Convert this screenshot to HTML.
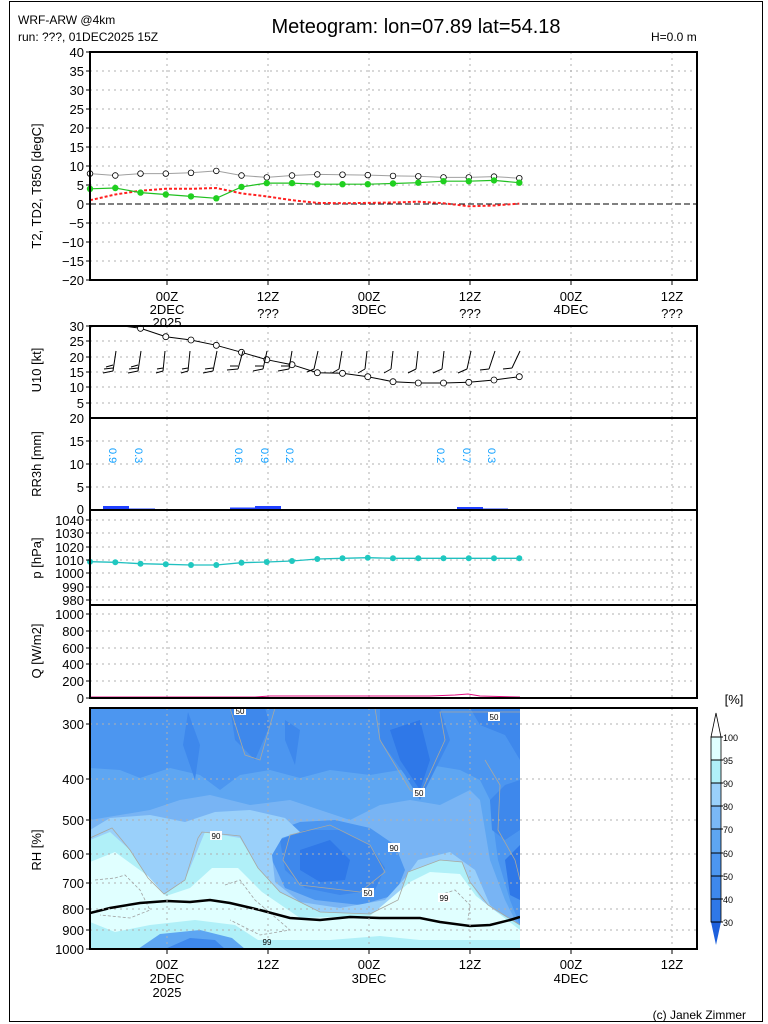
<!DOCTYPE html>
<html><head><meta charset="utf-8"><style>
html,body{margin:0;padding:0;background:#fff;}
svg{display:block;font-family:"Liberation Sans",sans-serif;}
</style></head><body>
<svg width="768" height="1024" viewBox="0 0 768 1024" xmlns="http://www.w3.org/2000/svg">
<rect x="0" y="0" width="768" height="1024" fill="#fff"/>
<rect x="9.5" y="1.5" width="753" height="1020" fill="none" stroke="#000" stroke-width="1"/>
<text x="18" y="24" font-size="12">WRF-ARW @4km</text>
<text x="18" y="41" font-size="12">run: ???, 01DEC2025 15Z</text>
<text x="416" y="33" font-size="20" text-anchor="middle">Meteogram: lon=07.89  lat=54.18</text>
<text x="651" y="41" font-size="12">H=0.0   m</text>

<defs><clipPath id="rhc"><rect x="90" y="708" width="430" height="241"/></clipPath>
<clipPath id="wc"><rect x="90" y="326" width="607" height="92"/></clipPath></defs>
<g clip-path="url(#rhc)">
<rect x="90" y="708" width="430" height="241" fill="#78b4f4"/>
<path d="M90,708 H520 V930 L505,900 L490,860 L480,800 L470,790 L440,805 L410,800 L380,805 L350,820 L320,810 L290,800 L250,805 L210,795 L180,800 L150,810 L120,815 L90,820Z" fill="#5ea6f2"/>
<path d="M90,708 H520 V925 L510,900 L498,860 L490,800 L480,780 L460,770 L430,765 L400,770 L370,775 L330,770 L300,778 L270,770 L240,775 L220,790 L200,775 L170,768 L140,778 L120,770 L90,768Z" fill="#4c96f0"/>
<path d="M270,833 L300,822 L335,820 L370,828 L395,845 L405,870 L395,895 L360,905 L315,900 L285,888 L272,860Z" fill="#4c96f0"/>
<path d="M280,840 L305,830 L340,830 L370,845 L385,868 L375,890 L340,895 L305,888 L285,870Z" fill="#3e88ec"/>
<path d="M300,850 L330,840 L350,860 L345,880 L320,882 L300,870Z" fill="#2f78e8"/>
<path d="M188,712 L200,745 L195,780 L183,745Z" fill="#3e88ec"/>
<path d="M230,708 L265,708 L270,725 L255,760 L235,740Z" fill="#3e88ec"/>
<path d="M285,720 L300,730 L295,765 L285,740Z" fill="#3e88ec"/>
<path d="M380,708 L440,708 L450,740 L430,780 L420,800 L405,775 L380,740Z" fill="#3e88ec"/>
<path d="M390,730 L420,720 L430,760 L420,790 L400,760Z" fill="#2f78e8"/>
<path d="M470,708 L520,708 L520,760 L505,735 L480,725Z" fill="#3e88ec"/>
<path d="M490,800 L505,785 L520,780 L520,830 L505,840 L492,830Z" fill="#3e88ec"/>
<path d="M505,860 L520,845 L520,900 L510,895Z" fill="#2f78e8"/>
<path d="M90,830 L110,818 L150,815 L185,822 L215,812 L250,810 L285,818 L300,832 L282,838 L272,855 L275,882 L300,902 L340,908 L385,900 L405,878 L418,860 L450,852 L475,870 L490,905 L520,928 L520,949 L90,949Z" fill="#9ad0fa"/>
<path d="M90,840 L110,832 L130,850 L148,878 L164,895 L185,880 L205,832 L240,838 L258,868 L280,892 L320,912 L370,914 L398,900 L408,872 L440,860 L462,862 L470,882 L485,905 L520,925 L520,949 L90,949Z" fill="#b0f0f8"/>
<path d="M90,862 L115,852 L148,876 L166,896 L190,888 L212,868 L238,868 L262,892 L300,918 L370,916 L410,882 L430,872 L460,874 L476,896 L520,930 L520,940 L90,940Z" fill="#e0ffff"/>
<path d="M90,922 L115,932 L150,925 L195,920 L235,925 L258,940 L270,949 L90,949Z" fill="#b0f0f8"/>
<path d="M300,949 L330,940 L380,936 L420,940 L430,949Z" fill="#b0f0f8"/>
<path d="M138,949 L160,934 L200,930 L232,938 L245,949Z" fill="#5ea6f2"/>
<path d="M165,949 L190,938 L215,940 L225,949Z" fill="#3e88ec"/>
<g fill="none" stroke="#a8a8a0" stroke-width="0.8">
<path d="M90,838 L112,828 L130,850 L148,878 L164,894 L185,880 L198,838 L202,832 L240,836 L258,868 L280,892 L320,912 L370,914 L398,900 L408,872 L440,860 L462,862 L470,882 L488,905 L520,925"/>
<path d="M230,708 L245,755 L260,760 L275,708"/>
<path d="M375,708 L380,740 L410,790 L420,795 L445,740 L440,712 L520,712"/>
<path d="M290,835 L330,825 L370,845 L385,872 L360,892 L300,885 L283,860Z"/>
<path d="M485,760 L500,785 L498,830 L515,860 L520,880"/>
</g>
<g fill="none" stroke="#a0a0a0" stroke-width="0.8" stroke-dasharray="3,2">
<path d="M95,880 L115,878 L125,875 L140,890 L150,910 L130,918 L100,915"/>
<path d="M225,885 L240,880 L255,900 L290,930 L260,935 L230,920"/>
<path d="M440,895 L455,890 L470,905 L468,920"/>
</g>
<path d="M90,913 L110,908 L140,903 L167,901 L190,902 L210,900 L230,903 L260,910 L290,918 L320,920 L350,917 L380,918 L420,918 L440,922 L470,926 L490,925 L510,920 L520,917" fill="none" stroke="#000" stroke-width="2.5"/>
</g>
<g font-size="8" text-anchor="middle">
<rect x="234" y="706" width="12" height="9" fill="#fff"/><text x="240" y="714">50</text>
<rect x="488" y="712" width="12" height="9" fill="#fff"/><text x="494" y="720">50</text>
<rect x="413" y="788" width="12" height="9" fill="#fff"/><text x="419" y="796">50</text>
<rect x="210" y="831" width="12" height="9" fill="#fff"/><text x="216" y="839">90</text>
<rect x="388" y="843" width="12" height="9" fill="#fff"/><text x="394" y="851">90</text>
<rect x="362" y="888" width="12" height="9" fill="#fff"/><text x="368" y="896">50</text>
<rect x="438" y="893" width="12" height="9" fill="#fff"/><text x="444" y="901">99</text>
<text x="267" y="945">99</text>
</g>

<g stroke="#b0b0b0" stroke-width="1" stroke-dasharray="2,4" fill="none">
<path d="M90,71H697M90,90H697M90,109H697M90,128H697M90,147H697M90,166H697M90,185H697M90,223H697M90,242H697M90,261H697"/>
<path d="M167,52V280M268,52V280M369,52V280M470,52V280M571,52V280M672,52V280"/>
<path d="M90,341H697M90,357H697M90,372H697M90,387H697M90,403H697M167,326V418M268,326V418M369,326V418M470,326V418M571,326V418M672,326V418"/>
<path d="M90,441H697M90,464H697M90,487H697M167,418V510M268,418V510M369,418V510M470,418V510M571,418V510M672,418V510"/>
<path d="M90,520H697M90,533H697M90,547H697M90,560H697M90,573H697M90,587H697M90,600H697M167,510V605M268,510V605M369,510V605M470,510V605M571,510V605M672,510V605"/>
<path d="M90,614H697M90,631H697M90,648H697M90,664H697M90,681H697M167,605V698M268,605V698M369,605V698M470,605V698M571,605V698M672,605V698"/>
<path d="M520,724H697M520,779H697M520,820H697M520,854H697M520,883H697M520,909H697M520,930H697M90,724H520M90,779H520M90,820H520M90,854H520M90,883H520M90,909H520M90,930H520M167,708V949M268,708V949M369,708V949M470,708V949M571,708V949M672,708V949"/>
</g>

<line x1="90" y1="204" x2="697" y2="204" stroke="#000" stroke-width="1" stroke-dasharray="6,3"/>
<polyline fill="none" stroke="#ff2020" stroke-width="2" stroke-dasharray="3,2" points="90,200.2 115.3,194.5 140.5,190.7 165.8,188.8 191,188.8 216.3,188 241.5,193.4 266.8,196.4 292,200.2 317.3,202.9 342.5,203.2 367.8,202.9 393,202.5 418.3,201.7 443.5,203.2 468.8,206.3 494,205.5 519.3,203.6"/>
<polyline fill="none" stroke="#a0a0a0" stroke-width="1" points="90,173.6 115.3,175.5 140.5,173.6 165.8,173.6 191,172.8 216.3,170.9 241.5,175.5 266.8,177.4 292,175.5 317.3,174.4 342.5,174.7 367.8,175.1 393,175.9 418.3,176.3 443.5,177.4 468.8,177.4 494,176.6 519.3,178.2"/>
<g fill="#fff" stroke="#000" stroke-width="0.8">
<circle cx="90" cy="173.6" r="2.8"/><circle cx="115.3" cy="175.5" r="2.8"/><circle cx="140.5" cy="173.6" r="2.8"/><circle cx="165.8" cy="173.6" r="2.8"/><circle cx="191" cy="172.8" r="2.8"/><circle cx="216.3" cy="170.9" r="2.8"/><circle cx="241.5" cy="175.5" r="2.8"/><circle cx="266.8" cy="177.4" r="2.8"/><circle cx="292" cy="175.5" r="2.8"/><circle cx="317.3" cy="174.4" r="2.8"/><circle cx="342.5" cy="174.7" r="2.8"/><circle cx="367.8" cy="175.1" r="2.8"/><circle cx="393" cy="175.9" r="2.8"/><circle cx="418.3" cy="176.3" r="2.8"/><circle cx="443.5" cy="177.4" r="2.8"/><circle cx="468.8" cy="177.4" r="2.8"/><circle cx="494" cy="176.6" r="2.8"/><circle cx="519.3" cy="178.2" r="2.8"/>
</g>
<polyline fill="none" stroke="#20c020" stroke-width="1.2" points="90,188.8 115.3,188 140.5,192.6 165.8,194.5 191,196.4 216.3,198.3 241.5,186.9 266.8,183.1 292,183.1 317.3,184.2 342.5,184.2 367.8,184.2 393,183.5 418.3,182.7 443.5,181.2 468.8,181.2 494,180.4 519.3,182.7"/>
<g fill="#20d020">
<circle cx="90" cy="188.8" r="3.2"/><circle cx="115.3" cy="188" r="3.2"/><circle cx="140.5" cy="192.6" r="3.2"/><circle cx="165.8" cy="194.5" r="3.2"/><circle cx="191" cy="196.4" r="3.2"/><circle cx="216.3" cy="198.3" r="3.2"/><circle cx="241.5" cy="186.9" r="3.2"/><circle cx="266.8" cy="183.1" r="3.2"/><circle cx="292" cy="183.1" r="3.2"/><circle cx="317.3" cy="184.2" r="3.2"/><circle cx="342.5" cy="184.2" r="3.2"/><circle cx="367.8" cy="184.2" r="3.2"/><circle cx="393" cy="183.5" r="3.2"/><circle cx="418.3" cy="182.7" r="3.2"/><circle cx="443.5" cy="181.2" r="3.2"/><circle cx="468.8" cy="181.2" r="3.2"/><circle cx="494" cy="180.4" r="3.2"/><circle cx="519.3" cy="182.7" r="3.2"/>
</g>

<g clip-path="url(#wc)">
<polyline fill="none" stroke="#000" stroke-width="1" points="90,327 100,325 115.3,325 140.5,328.3 165.8,336.7 191,340 216.3,345.3 241.5,352.3 266.8,359.7 292,364.7 317.3,372.7 342.5,373.3 367.8,376.7 393,381.7 418.3,383 443.5,383 468.8,382.3 494,380 519.3,376.7"/>
</g>
<g fill="#fff" stroke="#000" stroke-width="0.8">
<circle cx="140.5" cy="328.3" r="3"/><circle cx="165.8" cy="336.7" r="3"/><circle cx="191" cy="340" r="3"/><circle cx="216.3" cy="345.3" r="3"/><circle cx="241.5" cy="352.3" r="3"/><circle cx="266.8" cy="359.7" r="3"/><circle cx="292" cy="364.7" r="3"/><circle cx="317.3" cy="372.7" r="3"/><circle cx="342.5" cy="373.3" r="3"/><circle cx="367.8" cy="376.7" r="3"/><circle cx="393" cy="381.7" r="3"/><circle cx="418.3" cy="383" r="3"/><circle cx="443.5" cy="383" r="3"/><circle cx="468.8" cy="382.3" r="3"/><circle cx="494" cy="380" r="3"/><circle cx="519.3" cy="376.7" r="3"/>
</g>
<g fill="none" stroke="#000" stroke-width="1">
<path d="M113,371 L116,351 M113,371 L103,373 M113,368 L104,369 M113,365 L106,367"/>
<path d="M138,371 L141,351 M138,371 L128,373 M138,368 L129,369 M138,365 L131,367"/>
<path d="M163,371 L165,351 M163,371 L156,373 M163,368 L157,369"/>
<path d="M188,371 L190,351 M188,371 L181,373 M188,368 L182,369"/>
<path d="M213,371 L217,351 M213,371 L203,373 M213,368 L205,369"/>
<path d="M238,369 L243,351 M238,369 L227,370 M238,366 L230,366"/>
<path d="M263,369 L267,351 M263,369 L253,371 M263,366 L255,366"/>
<path d="M289,369 L292,351 M289,369 L278,371 M289,366 L281,366"/>
<path d="M314,369 L318,351 M314,369 L307,372"/>
<path d="M339,369 L342,351 M339,369 L332,373"/>
<path d="M365,369 L367,351 M365,369 L358,373"/>
<path d="M391,369 L393,351 M391,369 L384,373"/>
<path d="M416,369 L418,351 M416,369 L408,373"/>
<path d="M442,369 L444,351 M442,369 L433,373"/>
<path d="M467,369 L471,351 M467,369 L458,373"/>
<path d="M489,369 L495,351 M489,369 L480,370"/>
<path d="M512,368 L520,351 M512,368 L503,369"/>
</g>

<g fill="#2040ff">
<rect x="103" y="506" width="26" height="4"/><rect x="129" y="508.5" width="26" height="1.5"/>
<rect x="230" y="507.5" width="25" height="2.5"/><rect x="255" y="506" width="26" height="4"/>
<rect x="432" y="509" width="25" height="1"/><rect x="457" y="507" width="26" height="3"/><rect x="483" y="508.5" width="25" height="1.5"/>
</g>
<g fill="#10a0ff" font-size="11">
<text transform="translate(109,448) rotate(90)">0.9</text>
<text transform="translate(135,448) rotate(90)">0.3</text>
<text transform="translate(235,448) rotate(90)">0.6</text>
<text transform="translate(261,448) rotate(90)">0.9</text>
<text transform="translate(286,448) rotate(90)">0.2</text>
<text transform="translate(437,448) rotate(90)">0.2</text>
<text transform="translate(463,448) rotate(90)">0.7</text>
<text transform="translate(488,448) rotate(90)">0.3</text>
</g>

<polyline fill="none" stroke="#20c0c0" stroke-width="1.3" points="90,561.7 115.3,562.3 140.5,563.7 165.8,564.3 191,565 216.3,565 241.5,562.7 266.8,562 292,561 317.3,559 342.5,558.3 367.8,557.7 393,558.3 418.3,558.3 443.5,558.3 468.8,558.3 494,558.3 519.3,558.3"/>
<g fill="#20c8c0">
<circle cx="90" cy="561.7" r="3"/><circle cx="115.3" cy="562.3" r="3"/><circle cx="140.5" cy="563.7" r="3"/><circle cx="165.8" cy="564.3" r="3"/><circle cx="191" cy="565" r="3"/><circle cx="216.3" cy="565" r="3"/><circle cx="241.5" cy="562.7" r="3"/><circle cx="266.8" cy="562" r="3"/><circle cx="292" cy="561" r="3"/><circle cx="317.3" cy="559" r="3"/><circle cx="342.5" cy="558.3" r="3"/><circle cx="367.8" cy="557.7" r="3"/><circle cx="393" cy="558.3" r="3"/><circle cx="418.3" cy="558.3" r="3"/><circle cx="443.5" cy="558.3" r="3"/><circle cx="468.8" cy="558.3" r="3"/><circle cx="494" cy="558.3" r="3"/><circle cx="519.3" cy="558.3" r="3"/>
</g>

<polyline fill="none" stroke="#e01080" stroke-width="1" points="90,697 255,697 270,696 430,696 455,695 468,694 480,696 520,697"/>

<g fill="none" stroke="#000" stroke-width="2">
<rect x="90" y="52" width="607" height="228"/>
<rect x="90" y="326" width="607" height="372"/>
<line x1="90" y1="418" x2="697" y2="418"/>
<line x1="90" y1="510" x2="697" y2="510"/>
<line x1="90" y1="605" x2="697" y2="605"/>
<rect x="90" y="708" width="607" height="241"/>
</g>
<g stroke="#000" stroke-width="1">
<path d="M86,52H90M86,71H90M86,90H90M86,109H90M86,128H90M86,147H90M86,166H90M86,185H90M86,204H90M86,223H90M86,242H90M86,261H90M86,280H90"/>
<path d="M167,280V285M268,280V285M369,280V285M470,280V285M571,280V285M672,280V285"/>
<path d="M86,326H90M86,341H90M86,357H90M86,372H90M86,387H90M86,403H90M86,441H90M86,464H90M86,487H90M86,520H90M86,533H90M86,547H90M86,560H90M86,573H90M86,587H90M86,600H90M86,614H90M86,631H90M86,648H90M86,664H90M86,681H90M86,698H90"/>
<path d="M86,724H90M86,779H90M86,820H90M86,854H90M86,883H90M86,909H90M86,930H90M86,949H90M167,949V954M268,949V954M369,949V954M470,949V954M571,949V954M672,949V954"/>
</g>

<g font-size="13" text-anchor="end">
<text x="84" y="57">40</text><text x="84" y="76">35</text><text x="84" y="95">30</text><text x="84" y="114">25</text><text x="84" y="133">20</text><text x="84" y="152">15</text><text x="84" y="171">10</text><text x="84" y="190">5</text><text x="84" y="209">0</text><text x="84" y="228">−5</text><text x="84" y="247">−10</text><text x="84" y="266">−15</text><text x="84" y="285">−20</text>
<text x="84" y="331">30</text><text x="84" y="346">25</text><text x="84" y="362">20</text><text x="84" y="377">15</text><text x="84" y="392">10</text><text x="84" y="408">5</text>
<text x="84" y="423">20</text><text x="84" y="446">15</text><text x="84" y="469">10</text><text x="84" y="492">5</text><text x="84" y="514">0</text>
<text x="84" y="525">1040</text><text x="84" y="538">1030</text><text x="84" y="552">1020</text><text x="84" y="565">1010</text><text x="84" y="578">1000</text><text x="84" y="592">990</text><text x="84" y="605">980</text>
<text x="84" y="619">1000</text><text x="84" y="636">800</text><text x="84" y="653">600</text><text x="84" y="669">400</text><text x="84" y="686">200</text><text x="84" y="703">0</text>
<text x="84" y="729">300</text><text x="84" y="784">400</text><text x="84" y="825">500</text><text x="84" y="859">600</text><text x="84" y="888">700</text><text x="84" y="914">800</text><text x="84" y="935">900</text><text x="84" y="954">1000</text>
</g>
<g font-size="13" text-anchor="middle">
<text x="167" y="301">00Z</text><text x="167" y="314">2DEC</text><text x="167" y="327">2025</text>
<text x="268" y="301">12Z</text><text x="268" y="318">???</text>
<text x="369" y="301">00Z</text><text x="369" y="314">3DEC</text>
<text x="470" y="301">12Z</text><text x="470" y="318">???</text>
<text x="571" y="301">00Z</text><text x="571" y="314">4DEC</text>
<text x="672" y="301">12Z</text><text x="672" y="318">???</text>
<text x="167" y="969">00Z</text><text x="167" y="983">2DEC</text><text x="167" y="997">2025</text>
<text x="268" y="969">12Z</text>
<text x="369" y="969">00Z</text><text x="369" y="983">3DEC</text>
<text x="470" y="969">12Z</text>
<text x="571" y="969">00Z</text><text x="571" y="983">4DEC</text>
<text x="672" y="969">12Z</text>
</g>
<g font-size="13" text-anchor="middle">
<text transform="translate(41,186) rotate(-90)">T2, TD2, T850 [degC]</text>
<text transform="translate(41,370) rotate(-90)">U10 [kt]</text>
<text transform="translate(41,464) rotate(-90)">RR3h [mm]</text>
<text transform="translate(41,558) rotate(-90)">p [hPa]</text>
<text transform="translate(41,651) rotate(-90)">Q [W/m2]</text>
<text transform="translate(41,850) rotate(-90)">RH [%]</text>
</g>

<text x="734" y="704" font-size="13" text-anchor="middle">[%]</text>
<polygon points="711,737 721,737 716,713" fill="#fff" stroke="#000" stroke-width="0.8"/>
<rect x="711" y="737" width="10" height="23" fill="#e0ffff"/>
<rect x="711" y="760" width="10" height="23" fill="#b0f0f8"/>
<rect x="711" y="783" width="10" height="23" fill="#9ad0fa"/>
<rect x="711" y="806" width="10" height="23" fill="#7ab8f6"/>
<rect x="711" y="829" width="10" height="24" fill="#5ea6f2"/>
<rect x="711" y="853" width="10" height="23" fill="#4c96f0"/>
<rect x="711" y="876" width="10" height="23" fill="#3e88ec"/>
<rect x="711" y="899" width="10" height="23" fill="#2f78e8"/>
<polygon points="711,922 721,922 716,945" fill="#1e60dc"/>
<rect x="711" y="737" width="10" height="185" fill="none" stroke="#000" stroke-width="0.8"/>
<g stroke="#000" stroke-width="1"><path d="M711,760H723M711,783H723M711,806H723M711,829H723M711,853H723M711,876H723M711,899H723M711,922H723M711,737H723"/></g>
<g font-size="9">
<text x="723" y="741">100</text><text x="723" y="764">95</text><text x="723" y="787">90</text><text x="723" y="810">80</text><text x="723" y="833">70</text><text x="723" y="857">60</text><text x="723" y="880">50</text><text x="723" y="903">40</text><text x="723" y="926">30</text>
</g>
<text x="746" y="1019" font-size="12" text-anchor="end">(c) Janek Zimmer</text>
</svg>
</body></html>
